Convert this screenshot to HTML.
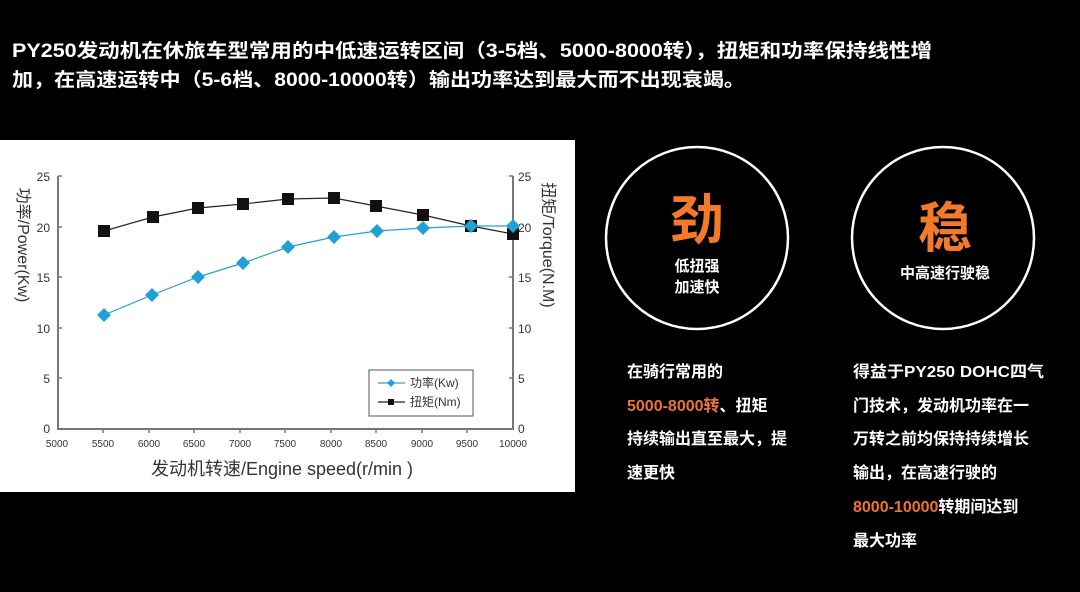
<!DOCTYPE html>
<html><head><meta charset="utf-8"><style>
html,body{margin:0;padding:0;background:#000;}
svg{display:block;}
.cn{font-family:"Liberation Sans","Noto Sans CJK SC",sans-serif;}
</style></head><body>
<svg width="1080" height="592" viewBox="0 0 1080 592" xmlns="http://www.w3.org/2000/svg" class="cn">
<rect width="1080" height="592" fill="#000"/>
<g fill="#fff" font-size="19" font-weight="bold">
<text x="12" y="57" textLength="920" lengthAdjust="spacingAndGlyphs">PY250发动机在休旅车型常用的中低速运转区间（3-5档、5000-8000转），扭矩和功率保持线性增</text>
<text x="12" y="86" textLength="733" lengthAdjust="spacingAndGlyphs">加，在高速运转中（5-6档、8000-10000转）输出功率达到最大而不出现衰竭。</text>
</g>
<rect x="0" y="140" width="575" height="352" fill="#fff"/>
<g stroke="#777" stroke-width="2" fill="none">
<polyline points="58,176 58,429 513,429 513,176"/>
</g>
<g stroke="#777" stroke-width="1.5">
<line x1="103" y1="429" x2="103" y2="433"/><line x1="149" y1="429" x2="149" y2="433"/><line x1="194" y1="429" x2="194" y2="433"/><line x1="240" y1="429" x2="240" y2="433"/><line x1="285" y1="429" x2="285" y2="433"/><line x1="331" y1="429" x2="331" y2="433"/><line x1="376" y1="429" x2="376" y2="433"/><line x1="422" y1="429" x2="422" y2="433"/><line x1="467" y1="429" x2="467" y2="433"/>
<line x1="58" y1="176" x2="62" y2="176"/><line x1="58" y1="227" x2="62" y2="227"/><line x1="58" y1="277" x2="62" y2="277"/><line x1="58" y1="328" x2="62" y2="328"/><line x1="58" y1="378" x2="62" y2="378"/>
<line x1="509" y1="176" x2="513" y2="176"/><line x1="509" y1="227" x2="513" y2="227"/><line x1="509" y1="277" x2="513" y2="277"/><line x1="509" y1="328" x2="513" y2="328"/><line x1="509" y1="378" x2="513" y2="378"/>
</g>
<g font-size="12" fill="#333" text-anchor="end">
<text x="50" y="181">25</text><text x="50" y="232">20</text><text x="50" y="282">15</text><text x="50" y="333">10</text><text x="50" y="383">5</text><text x="50" y="433">0</text>
</g>
<g font-size="12" fill="#333">
<text x="518" y="181">25</text><text x="518" y="232">20</text><text x="518" y="282">15</text><text x="518" y="333">10</text><text x="518" y="383">5</text><text x="518" y="433">0</text>
</g>
<g font-size="10" fill="#333" text-anchor="middle">
<text x="57" y="447">5000</text><text x="103" y="447">5500</text><text x="149" y="447">6000</text><text x="194" y="447">6500</text><text x="240" y="447">7000</text><text x="285" y="447">7500</text><text x="331" y="447">8000</text><text x="376" y="447">8500</text><text x="422" y="447">9000</text><text x="467" y="447">9500</text><text x="513" y="447">10000</text>
</g>
<text x="282" y="475" font-size="18" fill="#333" text-anchor="middle">发动机转速/Engine speed(r/min )</text>
<text transform="translate(18,245) rotate(90)" font-size="16" fill="#333" text-anchor="middle">功率/Power(Kw)</text>
<text transform="translate(543,245) rotate(90)" font-size="16" fill="#333" text-anchor="middle">扭矩/Torque(N.M)</text>
<polyline points="104,231 153,217 198,208 243,204 288,199 334,198 376,206 423,215 471,226 513,234" fill="none" stroke="#222" stroke-width="1.2"/>
<g fill="#111">
<rect x="98" y="225" width="12" height="12"/><rect x="147" y="211" width="12" height="12"/><rect x="192" y="202" width="12" height="12"/><rect x="237" y="198" width="12" height="12"/><rect x="282" y="193" width="12" height="12"/><rect x="328" y="192" width="12" height="12"/><rect x="370" y="200" width="12" height="12"/><rect x="417" y="209" width="12" height="12"/><rect x="465" y="220" width="12" height="12"/><rect x="507" y="228" width="12" height="12"/>
</g>
<polyline points="104,315 152,295 198,277 243,263 288,247 334,237 377,231 423,228 471,226 513,226" fill="none" stroke="#2aa0d0" stroke-width="1.2"/>
<g fill="#21a0d4">
<path d="M104,308l7,7l-7,7l-7,-7z"/><path d="M152,288l7,7l-7,7l-7,-7z"/><path d="M198,270l7,7l-7,7l-7,-7z"/><path d="M243,256l7,7l-7,7l-7,-7z"/><path d="M288,240l7,7l-7,7l-7,-7z"/><path d="M334,230l7,7l-7,7l-7,-7z"/><path d="M377,224l7,7l-7,7l-7,-7z"/><path d="M423,221l7,7l-7,7l-7,-7z"/><path d="M471,219l7,7l-7,7l-7,-7z"/><path d="M513,219l7,7l-7,7l-7,-7z"/>
</g>
<rect x="369" y="370" width="104" height="46" fill="#fff" stroke="#555" stroke-width="1"/>
<line x1="378" y1="383" x2="405" y2="383" stroke="#2aa0d0" stroke-width="1.2"/><path d="M391,379l4,4l-4,4l-4,-4z" fill="#21a0d4"/>
<line x1="378" y1="402" x2="405" y2="402" stroke="#222" stroke-width="1.2"/><rect x="388" y="399" width="6" height="6" fill="#111"/>
<text x="410" y="387" font-size="12" fill="#333">功率(Kw)</text>
<text x="410" y="406" font-size="12" fill="#333">扭矩(Nm)</text>
<circle cx="697" cy="238" r="91" fill="none" stroke="#fff" stroke-width="2.5"/>
<circle cx="943" cy="238" r="91" fill="none" stroke="#fff" stroke-width="2.5"/>
<g font-weight="bold" text-anchor="middle">
<text x="697" y="239" font-size="54" fill="#f47a2a">劲</text>
<text x="697" y="271" font-size="15" fill="#fff">低扭强</text>
<text x="697" y="292" font-size="15" fill="#fff">加速快</text>
<text x="945" y="247" font-size="54" fill="#f47a2a">稳</text>
<text x="945" y="278" font-size="15" fill="#fff">中高速行驶稳</text>
</g>
<g font-size="16" font-weight="bold" fill="#fff">
<text x="627" y="377">在骑行常用的</text>
<text x="627" y="411"><tspan fill="#f0703a">5000-8000转</tspan>、扭矩</text>
<text x="627" y="444">持续输出直至最大，提</text>
<text x="627" y="478">速更快</text>
<text x="853" y="377" textLength="191" lengthAdjust="spacingAndGlyphs">得益于PY250 DOHC四气</text>
<text x="853" y="411">门技术，发动机功率在一</text>
<text x="853" y="444">万转之前均保持持续增长</text>
<text x="853" y="478">输出，在高速行驶的</text>
<text x="853" y="512"><tspan fill="#f0703a">8000-10000</tspan>转期间达到</text>
<text x="853" y="546">最大功率</text>
</g>
</svg>
</body></html>
